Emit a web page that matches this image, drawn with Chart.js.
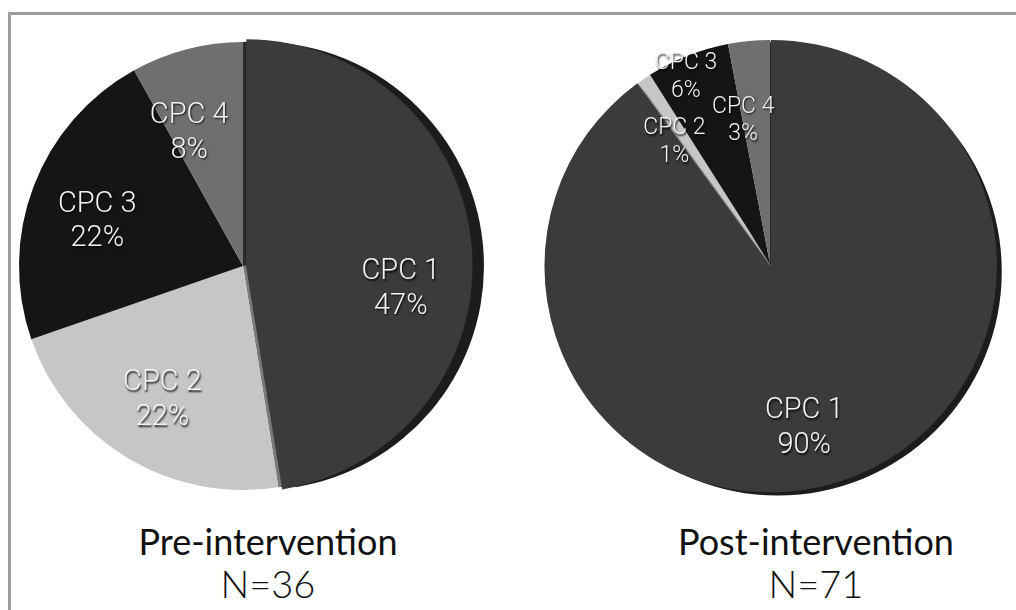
<!DOCTYPE html>
<html>
<head>
<meta charset="utf-8">
<script src="https://cdn.jsdelivr.net/npm/chart.js@4.4.0/dist/chart.umd.min.js"></script>
<style>
  html, body { margin: 0; padding: 0; background: #fff; width: 1016px; height: 610px; overflow: hidden; }
  #frame { position: absolute; left: 8px; top: 12px; width: 1100px; height: 700px;
           border: 3px solid #9d9d9d; box-sizing: border-box; }
  canvas.pie { position: absolute; }
  .title { position: absolute; width: 400px; text-align: center; white-space: nowrap;
           font-family: Lato, "Open Sans", sans-serif; color: #111; line-height: 36px; }
  .head { font-size: 36px; font-weight: 400; }
  .count { font-size: 38px; font-weight: 300; }
</style>
</head>
<body>
<div id="frame"></div>
<canvas id="prePie" class="pie" width="500" height="500" style="left:-7px;top:16px"></canvas>
<canvas id="postPie" class="pie" width="500" height="500" style="left:520px;top:14px"></canvas>
<div class="title head" style="left:68px;top:523px">Pre-intervention</div>
<div class="title count" style="left:68px;top:565px">N=36</div>
<div class="title head" style="left:616px;top:523px">Post-intervention</div>
<div class="title count" style="left:616px;top:565px">N=71</div>

<script>
// CPC outcome categories and their share (%) before and after the intervention
const categories = ["CPC 1", "CPC 2", "CPC 3", "CPC 4"];
const preValues = [47, 22, 22, 8];
const postValues = [90, 1, 6, 3];
const sliceColors = ["#3b3b3b", "#c6c6c6", "#151515", "#6f6f6f"];

// Side walls and rim of the pulled-out slice, drawn underneath the slices
const sliceWalls = {
  id: "sliceWalls",
  beforeDatasetsDraw(chart, args, opts) {
    const arc = chart.getDatasetMeta(0).data[0];
    const { x, y, startAngle, endAngle, outerRadius } = arc.getProps(["x", "y", "startAngle", "endAngle", "outerRadius"], true);
    const off = arc.options.offset || 0;
    const mid = (startAngle + endAngle) / 2;
    const ox = Math.cos(mid) * off, oy = Math.sin(mid) * off;
    const ctx = chart.ctx;
    ctx.save();
    // dark rim just outside the right-hand edge
    ctx.fillStyle = opts.rim;
    ctx.beginPath();
    ctx.moveTo(x + ox + opts.rimDx, y + oy + opts.rimDy);
    ctx.arc(x + ox + opts.rimDx, y + oy + opts.rimDy, outerRadius, startAngle, endAngle);
    ctx.closePath();
    ctx.fill();
    const wall = (ang, color) => {
      const ex = Math.cos(ang) * outerRadius, ey = Math.sin(ang) * outerRadius;
      ctx.fillStyle = color;
      ctx.beginPath();
      ctx.moveTo(x, y);
      ctx.lineTo(x + ex, y + ey);
      ctx.lineTo(x + ex + ox, y + ey + oy);
      ctx.lineTo(x + ox, y + oy);
      ctx.closePath();
      ctx.fill();
    };
    wall(startAngle, opts.startWall);
    wall(endAngle, opts.endWall);
    ctx.restore();
  }
};

// Two-line slice labels: category name and percentage
const sliceLabels = {
  id: "sliceLabels",
  afterDatasetsDraw(chart, args, opts) {
    const ctx = chart.ctx;
    const meta = chart.getDatasetMeta(0);
    const values = chart.data.datasets[0].data;
    meta.data.forEach((arc, i) => {
      const { x, y, startAngle, endAngle, outerRadius } = arc.getProps(["x", "y", "startAngle", "endAngle", "outerRadius"], true);
      const off = arc.options.offset || 0;
      const mid = (startAngle + endAngle) / 2;
      const cx = x + Math.cos(mid) * off, cy = y + Math.sin(mid) * off;
      const [turn, frac, size] = opts.place[i];
      const a = mid + turn * Math.PI / 180;
      const lx = cx + Math.cos(a) * outerRadius * frac;
      const ly = cy + Math.sin(a) * outerRadius * frac;
      ctx.save();
      ctx.font = `300 ${size}px Roboto, "Liberation Sans", sans-serif`;
      ctx.textAlign = "center";
      ctx.textBaseline = "middle";
      ctx.fillStyle = "#f4f4f4";
      ctx.shadowColor = "rgba(0,0,0,0.9)";
      ctx.shadowBlur = 2;
      ctx.shadowOffsetX = 1;
      ctx.shadowOffsetY = 1.5;
      const gap = size * 0.6;
      ctx.fillText(chart.data.labels[i], lx, ly - gap);
      ctx.fillText(values[i] + "%", lx, ly + gap);
      ctx.restore();
    });
  }
};

function makePie(id, values, offsets, radius, walls, place) {
  return new Chart(document.getElementById(id), {
    type: "pie",
    data: {
      labels: categories,
      datasets: [{
        data: values,
        backgroundColor: sliceColors,
        borderWidth: 0,
        offset: offsets
      }]
    },
    options: {
      responsive: false,
      animation: false,
      radius: radius,
      layout: { padding: 0 },
      plugins: {
        legend: { display: false },
        tooltip: { enabled: false },
        sliceWalls: walls,
        sliceLabels: { place: place }
      }
    },
    plugins: [sliceWalls, sliceLabels]
  });
}

makePie("prePie", preValues, [12, 0, 0, 0], 224,
  { rim: "#1c1c1c", rimDx: 5, rimDy: 1, startWall: "#2a2a2a", endWall: "#7a7a7a" },
  [[14, 0.66, 29], [0, 0.70, 29], [-4, 0.68, 29], [-7.5, 0.64, 29]]);

makePie("postPie", postValues, [9, 0, 0, 0], 224,
  { rim: "#1c1c1c", rimDx: 5, rimDy: -1, startWall: "#262626", endWall: "#9a9a9a" },
  [[6.6, 0.71, 29], [-4, 0.69, 23], [-2.6, 0.915, 23], [-5.2, 0.65, 23]]);
</script>
</body>
</html>
